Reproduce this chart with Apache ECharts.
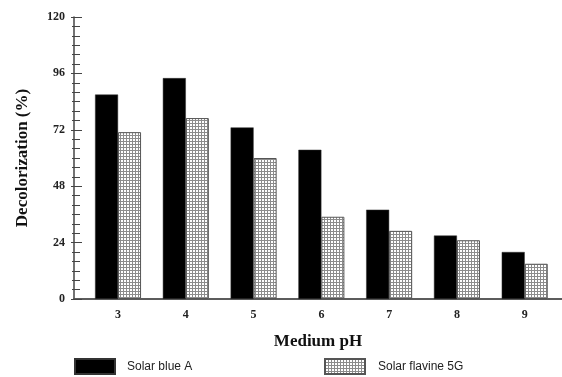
<!DOCTYPE html>
<html><head><meta charset="utf-8">
<script src="https://cdn.jsdelivr.net/npm/echarts@6/dist/echarts.min.js"></script>
<style>html,body{margin:0;padding:0;background:#fff}#c{width:562px;height:377px}</style>
</head><body><div id="c"></div>
<script>
var phValues = [3, 4, 5, 6, 7, 8, 9];
var solarBlueA = [87, 94, 73, 63.5, 38, 27, 20];
var solarFlavine5G = [71, 77, 60, 35, 29, 25, 15];
var yTicks = [0, 24, 48, 72, 96, 120];

function makePattern() {
  var c = document.createElement('canvas');
  c.width = 3; c.height = 3;
  var ctx = c.getContext('2d');
  ctx.fillStyle = '#8c8c8c'; ctx.fillRect(0, 0, 3, 3);
  ctx.fillStyle = '#ffffff'; ctx.fillRect(1, 1, 2, 2);
  return c;
}
var pat = { image: makePattern(), repeat: 'repeat' };

var serif = '"Liberation Serif","Times New Roman",serif';
var sans = '"Liberation Sans",Arial,sans-serif';

var chart = echarts.init(document.getElementById('c'), null, { renderer: 'canvas' });
chart.setOption({
  animation: false,
  backgroundColor: '#fff',
  grid: { left: 74, right: 0, top: 17, bottom: 78, containLabel: false },
  legend: [
    { data: [{ name: 'Solar blue A', icon: 'rect' }], left: 74, top: 358, itemWidth: 40, itemHeight: 15, padding: 0,
      textStyle: { fontFamily: sans, fontSize: 12, color: '#222', padding: [0, 0, 0, 7] }, selectedMode: false },
    { data: [{ name: 'Solar flavine 5G', icon: 'rect' }], left: 324, top: 358, itemWidth: 40, itemHeight: 15, padding: 0,
      textStyle: { fontFamily: sans, fontSize: 12, color: '#222', padding: [0, 0, 0, 8] }, selectedMode: false }
  ],
  xAxis: [{
    type: 'value', min: 2.35, max: 9.55, position: 'bottom',
    name: 'Medium pH', nameLocation: 'middle', nameGap: 34,
    nameTextStyle: { fontFamily: serif, fontWeight: 'bold', fontSize: 17, color: '#111' },
    axisLine: { show: true, lineStyle: { color: '#444', width: 1.5 } },
    axisTick: { show: false },
    splitLine: { show: false },
    axisLabel: { customValues: phValues, margin: 10, fontFamily: serif, fontWeight: 'bold', fontSize: 12, color: '#222',
      formatter: function (v) { return String(Math.round(v)); } }
  }, {
    type: 'value', min: 2.35, max: 9.55, position: 'top',
    axisLine: { show: true, lineStyle: { color: '#555', width: 1.5 } },
    axisTick: { show: false }, axisLabel: { show: false }, splitLine: { show: false }
  }],
  yAxis: [{
    type: 'value', min: 0, max: 120, interval: 24, position: 'left',
    name: 'Decolorization (%)', nameLocation: 'middle', nameGap: 43,
    nameTextStyle: { fontFamily: serif, fontWeight: 'bold', fontSize: 17, color: '#111' },
    axisLine: { show: true, lineStyle: { color: '#444', width: 1.5 } },
    axisTick: { show: true, length: 3, lineStyle: { color: '#444' } },
    minorTick: { show: true, splitNumber: 6, length: 2, lineStyle: { color: '#444' } },
    splitLine: { show: false },
    axisLabel: { margin: 9, fontFamily: serif, fontWeight: 'bold', fontSize: 12, color: '#222',
      customValues: yTicks }
  }, {
    type: 'value', min: 0, max: 120, interval: 24, position: 'left',
    axisLine: { show: false },
    axisTick: { show: true, inside: true, length: 8, lineStyle: { color: '#444' } },
    minorTick: { show: true, splitNumber: 6, length: 6, lineStyle: { color: '#444' } },
    splitLine: { show: false }, axisLabel: { show: false }
  }],
  series: [{
    name: 'Solar blue A', type: 'bar', xAxisIndex: 0, yAxisIndex: 0,
    barWidth: 23, barGap: '0%',
    itemStyle: { color: '#000', borderColor: '#333', borderWidth: 0.5 },
    data: phValues.map(function (x, i) { return [x, solarBlueA[i]]; })
  }, {
    name: 'Solar flavine 5G', type: 'bar', xAxisIndex: 0, yAxisIndex: 0,
    barWidth: 23, barGap: '0%',
    itemStyle: { color: pat, borderColor: '#555', borderWidth: 1 },
    data: phValues.map(function (x, i) { return [x, solarFlavine5G[i]]; })
  }]
});
</script></body></html>
